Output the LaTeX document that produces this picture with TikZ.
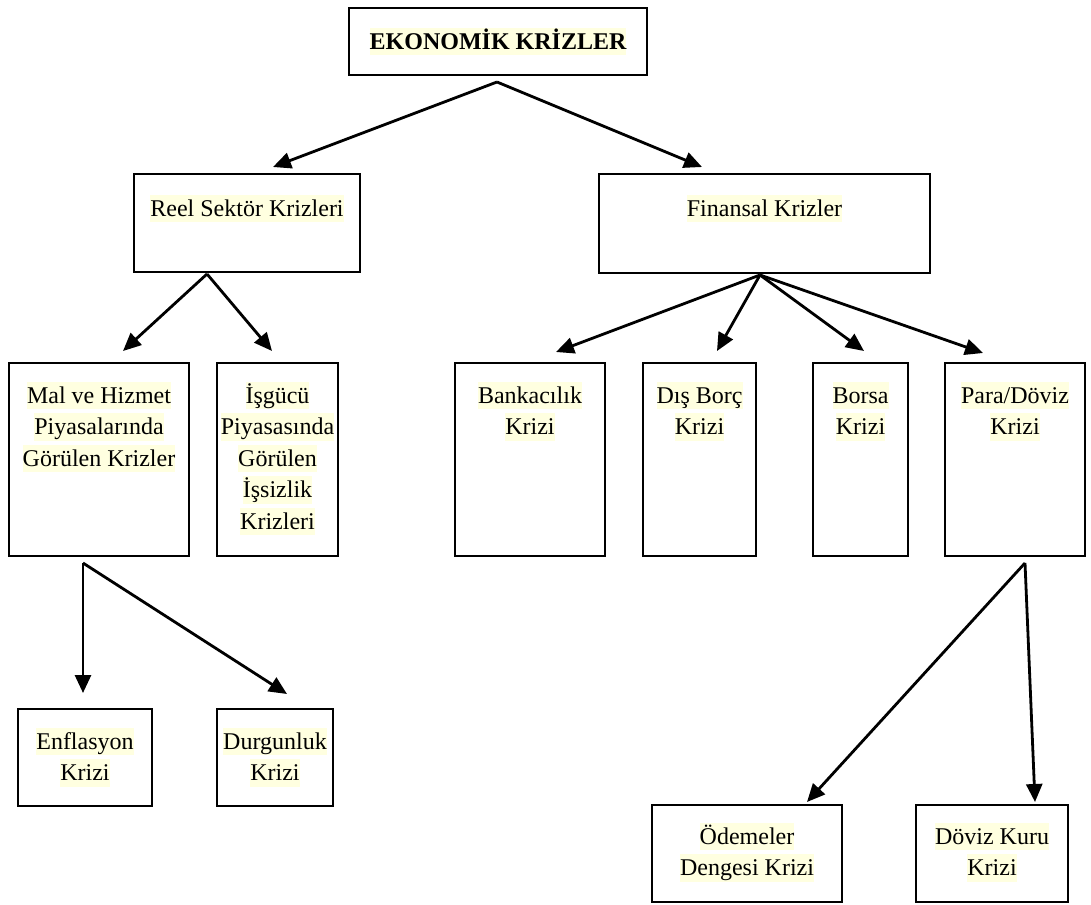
\documentclass[tikz,border=0pt]{standalone}
\usepackage{fontspec}
\setmainfont{Liberation Serif}
\usetikzlibrary{arrows.meta}
\definecolor{hlcol}{RGB}{255,255,224}
\newcommand\hlt[1]{{\setlength{\fboxsep}{0pt}\colorbox{hlcol}{\rule[-0.25em]{0pt}{1.15em}#1}}}
\begin{document}
\begin{tikzpicture}[x=1pt,y=-1pt,
  box/.style={draw=black,line width=2.8pt,inner sep=0pt,fill=none},
  txt/.style={anchor=north,inner sep=0pt,align=center,font=\fontsize{24}{31.5}\selectfont},
  arr/.style={line width=2.8pt,-{Triangle[length=18pt,width=16pt]}}]
\useasboundingbox (0,0) rectangle (1091,904);
% boxes
\node[box,minimum width=298pt,minimum height=67pt,font=\fontsize{24}{31.5}\selectfont\bfseries] (top) at (498,41.5) {\hlt{EKONOMİK KRİZLER}};
\node[box,minimum width=226pt,minimum height=98pt] (reel) at (247,223) {};
\node[box,minimum width=331pt,minimum height=99pt] (fin) at (764.5,223.5) {};
\node[box,minimum width=180pt,minimum height=193pt] (mal) at (99,459.5) {};
\node[box,minimum width=121pt,minimum height=193pt] (isg) at (277.5,459.5) {};
\node[box,minimum width=150pt,minimum height=193pt] (bank) at (530,459.5) {};
\node[box,minimum width=113pt,minimum height=193pt] (dis) at (699.5,459.5) {};
\node[box,minimum width=95pt,minimum height=193pt] (borsa) at (860.5,459.5) {};
\node[box,minimum width=140pt,minimum height=193pt] (para) at (1015,459.5) {};
\node[box,minimum width=134pt,minimum height=97pt] (enf) at (85,757.5) {};
\node[box,minimum width=116pt,minimum height=97pt] (durg) at (275,757.5) {};
\node[box,minimum width=190pt,minimum height=97pt] (odem) at (747,853.5) {};
\node[box,minimum width=152pt,minimum height=97pt] (doviz) at (992,853.5) {};
% texts
\node[txt] (treel) at ([yshift=-22pt]reel.north) {\hlt{Reel Sektör Krizleri}};
\node[txt] (tfin) at ([yshift=-22pt]fin.north) {\hlt{Finansal Krizler}};
\node[txt] (tmal) at ([yshift=-20pt]mal.north) {\hlt{Mal ve Hizmet}\\\hlt{Piyasalarında}\\\hlt{Görülen Krizler}};
\node[txt] (tisg) at ([yshift=-20pt]isg.north) {\hlt{İşgücü}\\\hlt{Piyasasında}\\\hlt{Görülen}\\\hlt{İşsizlik}\\\hlt{Krizleri}};
\node[txt] (tbank) at ([yshift=-20pt]bank.north) {\hlt{Bankacılık}\\\hlt{Krizi}};
\node[txt] (tdis) at ([yshift=-20pt]dis.north) {\hlt{Dış Borç}\\\hlt{Krizi}};
\node[txt] (tborsa) at ([yshift=-20pt]borsa.north) {\hlt{Borsa}\\\hlt{Krizi}};
\node[txt] (tpara) at ([yshift=-20pt]para.north) {\hlt{Para/Döviz}\\\hlt{Krizi}};
\node[txt] (tenf) at ([yshift=-20pt]enf.north) {\hlt{Enflasyon}\\\hlt{Krizi}};
\node[txt] (tdurg) at ([yshift=-20pt]durg.north) {\hlt{Durgunluk}\\\hlt{Krizi}};
\node[txt] (todem) at ([yshift=-19pt]odem.north) {\hlt{Ödemeler}\\\hlt{Dengesi Krizi}};
\node[txt] (tdoviz) at ([yshift=-19pt]doviz.north) {\hlt{Döviz Kuru}\\\hlt{Krizi}};
% connector end points
\coordinate (a0) at (497,82);
\coordinate (e-reel) at (273,167);
\coordinate (e-fin) at (702,167);
\coordinate (a1) at (207,274);
\coordinate (e-mal) at (123,351);
\coordinate (e-isg) at (272,351);
\coordinate (a2) at (760,275);
\coordinate (e-bank) at (556,352);
\coordinate (e-dis) at (717,351);
\coordinate (e-borsa) at (864,351);
\coordinate (e-para) at (983,353);
\coordinate (a3) at (83,563);
\coordinate (e-enf) at (83,693);
\coordinate (e-durg) at (287,694);
\coordinate (a4) at (1025,563);
\coordinate (e-odem) at (807,802);
\coordinate (e-doviz) at (1035,802);
% connectors
\draw[arr] (a0) -- (e-reel);
\draw[arr] (a0) -- (e-fin);
\draw[arr] (a1) -- (e-mal);
\draw[arr] (a1) -- (e-isg);
\draw[arr] (a2) -- (e-bank);
\draw[arr] (a2) -- (e-dis);
\draw[arr] (a2) -- (e-borsa);
\draw[arr] (a2) -- (e-para);
\draw[arr] (a3) -- (e-enf);
\draw[arr] (a3) -- (e-durg);
\draw[arr] (a4) -- (e-odem);
\draw[arr] (a4) -- (e-doviz);
\end{tikzpicture}
\end{document}
